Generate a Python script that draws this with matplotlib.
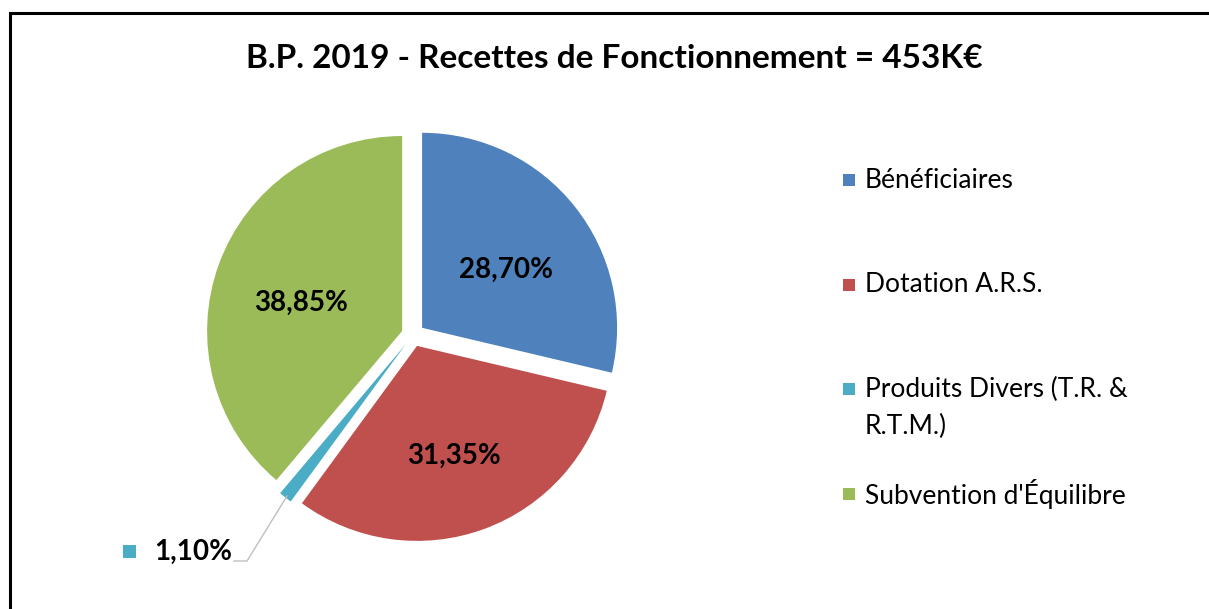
import matplotlib.pyplot as plt
from matplotlib.patches import Rectangle

W, H = 1209, 609

TITLE = "B.P. 2019 - Recettes de Fonctionnement = 453K€"
CATEGORIES = [
    "Bénéficiaires",
    "Dotation A.R.S.",
    "Produits Divers (T.R. &\nR.T.M.)",
    "Subvention d'Équilibre",
]
SHARES = [28.70, 31.35, 1.10, 38.85]
COLORS = ["#4F81BD", "#C0504D", "#4BACC6", "#9BBB59"]

plt.rcParams["font.family"] = ["Lato", "DejaVu Sans"]


def py(y):
    # pixel row (top = 0) -> data y
    return H - y


def fmt_pct(p):
    return f"{p:.2f}%".replace(".", ",")


fig = plt.figure(figsize=(W / 100, H / 100), dpi=100)
ax = fig.add_axes([0, 0, 1, 1])

# chart frame (only left and top edges show in the crop)
ax.plot([10, 10, W + 5], [-5, py(13), py(13)], color="black", lw=2.2,
        solid_joinstyle="miter")

# explode is in data units (pixels here)
wedges, texts, autotexts = ax.pie(
    SHARES,
    colors=COLORS,
    startangle=90,
    counterclock=False,
    explode=[11.6] * len(SHARES),
    center=(413, py(335)),
    radius=195,
    autopct=lambda p: fmt_pct(p) if p > 2 else "",
    pctdistance=0.55,
    textprops=dict(fontsize=20, fontweight="bold", color="black"),
    wedgeprops=dict(linewidth=0),
    frame=True,
)
for t in autotexts:
    x, y = t.get_position()
    t.set_position((x, y - 9))

ax.set_xlim(0, W)
ax.set_ylim(0, H)
ax.axis("off")

ax.text(W / 2 + 10, py(58), TITLE, ha="center", va="center",
        fontsize=24, fontweight="bold")

# small slice label placed outside with leader line
small = SHARES.index(min(SHARES))
ax.plot([287, 247, 234], [py(496), py(561), py(561)],
        color="#BFBFBF", lw=1)
ax.text(193, py(552), fmt_pct(SHARES[small]), ha="center", va="center",
        fontsize=20, fontweight="bold")
ax.add_patch(Rectangle((123, py(558)), 13, 13, color=COLORS[small], lw=0))

# legend
legend_y = [180, 285, 408, 494]
for label, color, y in zip(CATEGORIES, COLORS, legend_y):
    ky = y - 19 if "\n" in label else y
    ax.add_patch(Rectangle((843, py(ky) - 6), 12, 12, color=color, lw=0))
    ax.text(865, py(y), label, ha="left", va="center",
            fontsize=19, linespacing=1.55)

fig.savefig("out.png", dpi=100)
